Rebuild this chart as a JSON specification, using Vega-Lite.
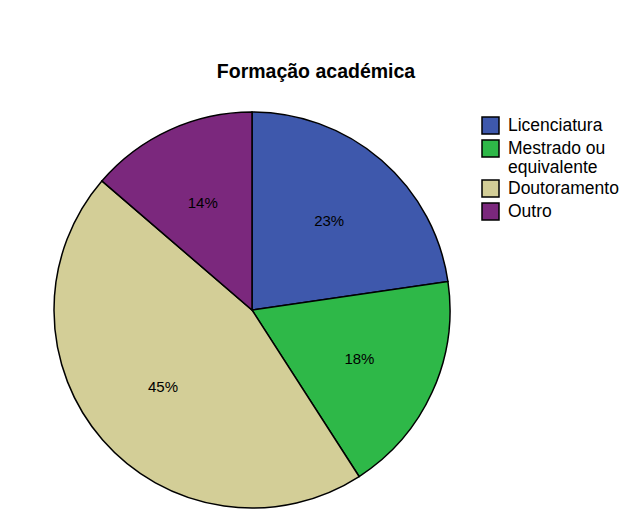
{
  "$schema": "https://vega.github.io/schema/vega-lite/v6.json",
  "width": 396,
  "height": 396,
  "autosize": "none",
  "padding": {"left": 54, "top": 112, "right": 180, "bottom": 3},
  "background": "white",
  "title": {
    "text": "Formação académica",
    "font": "Liberation Sans",
    "fontSize": 19.5,
    "fontWeight": "bold",
    "color": "black",
    "anchor": "middle",
    "dx": 64,
    "offset": 27
  },
  "data": {
    "values": [
      {"categoria": "Licenciatura", "pct": 0.227, "ordem": 1},
      {"categoria": "Mestrado ou equivalente", "pct": 0.182, "ordem": 2},
      {"categoria": "Doutoramento", "pct": 0.454, "ordem": 3},
      {"categoria": "Outro", "pct": 0.137, "ordem": 4}
    ]
  },
  "encoding": {
    "theta": {"field": "pct", "type": "quantitative", "stack": true},
    "order": {"field": "ordem", "type": "quantitative"}
  },
  "layer": [
    {
      "mark": {"type": "arc", "outerRadius": 198, "stroke": "black", "strokeWidth": 1.5},
      "encoding": {
        "color": {
          "field": "categoria",
          "type": "nominal",
          "sort": ["Licenciatura", "Mestrado ou equivalente", "Doutoramento", "Outro"],
          "scale": {
            "domain": ["Licenciatura", "Mestrado ou equivalente", "Doutoramento", "Outro"],
            "range": ["#3e58ac", "#2eb848", "#d3ce97", "#7b287d"]
          },
          "legend": {
            "title": null,
            "orient": "right",
            "offset": 27,
            "padding": 4,
            "symbolType": "square",
            "symbolSize": 289,
            "symbolStrokeColor": "black",
            "symbolStrokeWidth": 1.5,
            "symbolOpacity": 1,
            "labelFont": "Liberation Sans",
            "labelFontSize": 17.5,
            "labelColor": "black",
            "labelOffset": 8,
            "rowPadding": 0,
            "labelLimit": 200,
            "labelExpr": "datum.label == 'Mestrado ou equivalente' ? ['Mestrado ou', 'equivalente'] : datum.label"
          }
        }
      }
    },
    {
      "mark": {"type": "text", "radius": 118, "font": "Liberation Sans", "fontSize": 15, "color": "black", "align": "center", "baseline": "middle"},
      "encoding": {
        "text": {"field": "pct", "type": "quantitative", "format": ".0%"}
      }
    }
  ]
}
